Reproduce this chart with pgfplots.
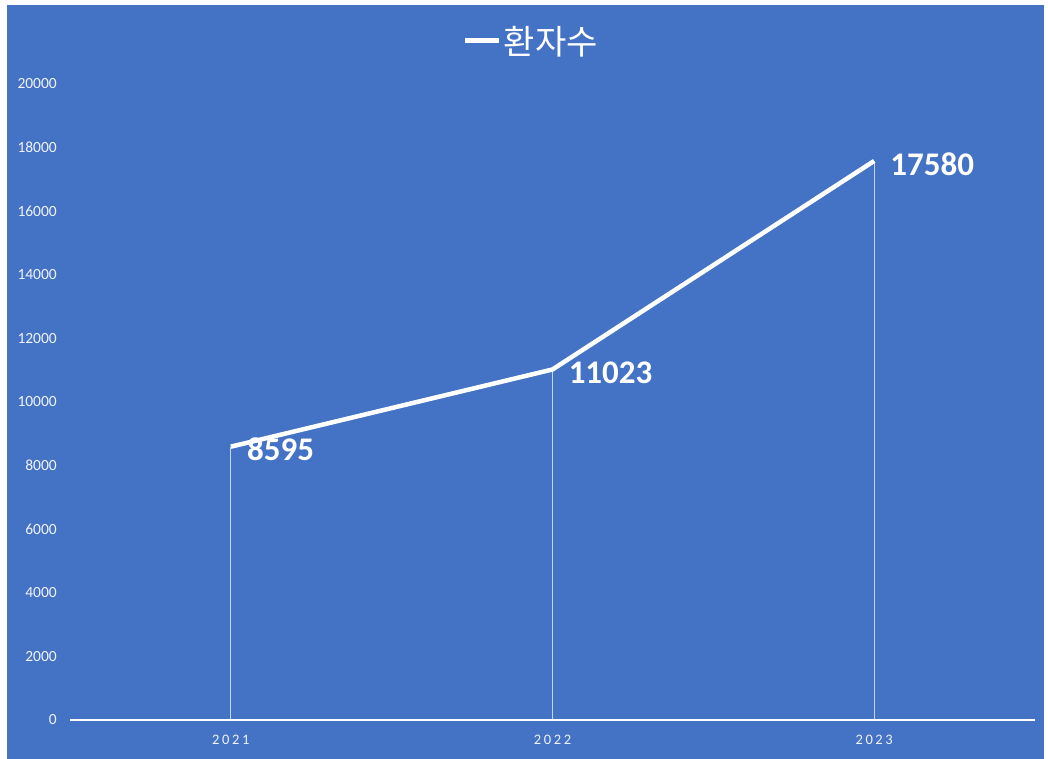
\documentclass[border=0pt]{standalone}
\usepackage{pgfplots}
\pgfplotsset{compat=1.18}
\usepackage{fontspec}
\setmainfont{Carlito}
\newfontfamily\kr{Noto Sans CJK KR}
\newfontfamily\spaced[LetterSpace=18]{Carlito}
\definecolor{bgblue}{RGB}{68,114,196}
\begin{document}
\begin{tikzpicture}[x=1pt,y=1pt]
\useasboundingbox (0,0) rectangle (1048,759);
\fill[white] (0,0) rectangle (1048,759);
\fill[bgblue] (7,0) rectangle (1044,754);
\begin{axis}[
  at={(70pt,39pt)}, anchor=south west,
  scale only axis, width=965pt, height=636pt,
  xmin=-0.5, xmax=2.5, ymin=0, ymax=20000,
  xtick={0,1,2}, xticklabels={2021,2022,2023},
  ytick={0,2000,...,20000},
  scaled y ticks=false,
  /pgf/number format/.cd, 1000 sep={}, assume math mode=true, /pgfplots/.cd,
  major tick length=0pt,
  axis x line*=bottom, axis y line*=left,
  x axis line style={white, line width=1.5pt, -},
  y axis line style={draw=none},
  tick label style={text=white!92!bgblue},
  yticklabel style={inner sep=0pt, anchor=east, xshift=-13pt, font=\fontsize{15.5}{17}\selectfont},
  xticklabel style={inner sep=0pt, anchor=north, yshift=-15pt, font=\spaced\fontsize{14.5}{16}\selectfont},
  legend style={at={(0.478,1.0676)}, anchor=center, draw=none, fill=none,
    text=white, font=\kr\fontsize{34}{36}\selectfont, inner sep=0pt},
  legend image code/.code={\draw[white, line width=5pt] (0pt,0pt) -- (34pt,0pt);},
  clip=false,
]
\addplot[ycomb, draw=white, opacity=0.7, line width=0.9pt, forget plot] coordinates {(0,8595) (1,11023) (2,17580)};
\addplot[white, line width=4.5pt, line join=round, mark=none,
  nodes near coords, point meta=explicit symbolic,
  nodes near coords style={anchor=west, xshift=14pt, yshift=-3pt, inner sep=0pt, text=white,
    font=\bfseries\fontsize{33}{35}\selectfont}]
  coordinates {(0,8595)[8595] (1,11023)[11023] (2,17580)[17580]};
\addlegendentry{환자수}
\end{axis}
\end{tikzpicture}
\end{document}
